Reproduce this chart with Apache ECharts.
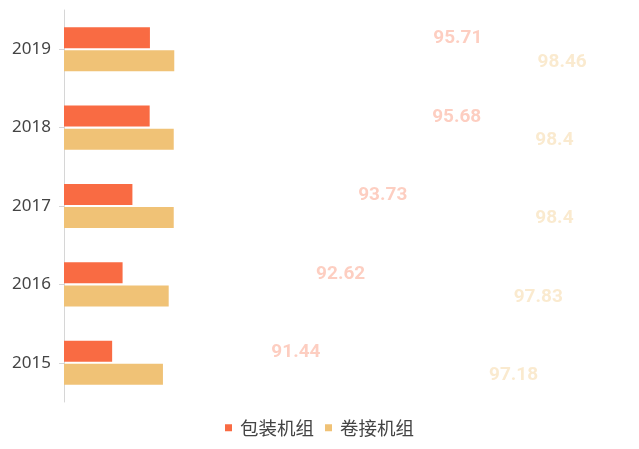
<!DOCTYPE html>
<html>
<head>
<meta charset="utf-8">
<script src="https://cdn.jsdelivr.net/npm/echarts@6/dist/echarts.min.js"></script>
<style>
html,body{margin:0;padding:0;background:#fff;}
#chart{width:639px;height:449px;}
</style>
</head>
<body>
<div id="chart"></div>
<script>
var years = ['2015', '2016', '2017', '2018', '2019'];
var seriesNames = ['包装机组', '卷接机组'];
var packing = [91.44, 92.62, 93.73, 95.68, 95.71];
var rolling = [97.18, 97.83, 98.4, 98.4, 98.46];

var colors = ['#F96B43', '#F0C276'];
var labelColors = ['rgba(249,107,67,0.33)', 'rgba(240,194,118,0.35)'];

var chart = echarts.init(document.getElementById('chart'));

function labelSeries(name, data, i) {
  return {
    name: name,
    type: 'bar',
    xAxisIndex: 1,
    yAxisIndex: 1,
    barWidth: 21,
    barGap: '10%',
    data: data,
    silent: true,
    legendHoverLink: false,
    itemStyle: { color: 'rgba(0,0,0,0)' },
    label: {
      show: true,
      position: 'right',
      distance: 1,
      offset: [0, 1],
      color: labelColors[i],
      fontFamily: 'Roboto',
      fontWeight: 'bold',
      fontSize: 19
    }
  };
}

chart.setOption({
  animation: false,
  grid: { left: 64, right: 44, top: 10, bottom: 47, containLabel: false },
  legend: {
    data: seriesNames,
    bottom: 7,
    left: 'center',
    itemWidth: 7,
    itemHeight: 7,
    itemGap: 11,
    icon: 'rect',
    textStyle: { fontSize: 18.5, color: '#444', fontFamily: 'Noto Sans CJK SC', padding: [0, 0, 0, 3] }
  },
  xAxis: [
    { type: 'value', min: 86, max: 146, show: false },
    { type: 'value', min: 86, max: 100, show: false, position: 'top' }
  ],
  yAxis: [
    {
      type: 'category',
      data: years,
      axisLine: { show: true, lineStyle: { color: '#d6d6d6' } },
      axisTick: { show: true, alignWithLabel: true, length: 5, lineStyle: { color: '#d6d6d6' } },
      axisLabel: { color: '#444', fontSize: 17, margin: 13, fontFamily: 'Noto Sans' },
      splitLine: { show: false }
    },
    { type: 'category', data: years, show: false }
  ],
  series: [
    {
      name: seriesNames[0],
      type: 'bar',
      barWidth: 21,
      barGap: '10%',
      data: packing,
      itemStyle: { color: colors[0] }
    },
    {
      name: seriesNames[1],
      type: 'bar',
      barWidth: 21,
      barGap: '10%',
      data: rolling,
      itemStyle: { color: colors[1] }
    },
    labelSeries(seriesNames[0], packing, 0),
    labelSeries(seriesNames[1], rolling, 1)
  ]
});
</script>
</body>
</html>
